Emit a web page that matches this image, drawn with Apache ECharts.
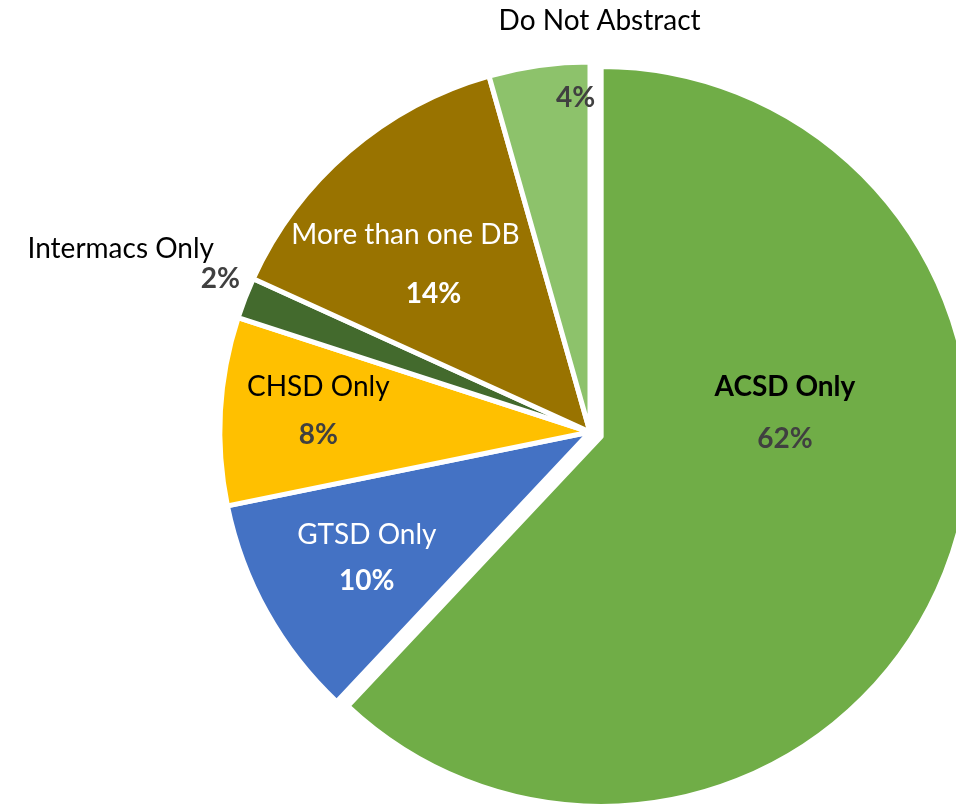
<!DOCTYPE html>
<html>
<head>
<meta charset="utf-8">
<script src="https://cdn.jsdelivr.net/npm/echarts@6/dist/echarts.min.js"></script>
<style>
html,body{margin:0;padding:0;background:#ffffff;}
#chart{width:956px;height:804px;}
</style>
</head>
<body>
<div id="chart"></div>
<script>
const categories = ['ACSD Only', 'GTSD Only', 'CHSD Only', 'Intermacs Only', 'More than one DB', 'Do Not Abstract'];
const values = [62.0, 9.8, 8.2, 1.8, 13.8, 4.4];

const colors = ['#70AD47', '#4472C4', '#FFC000', '#436A2D', '#997300', '#8DC26B'];
const FONT = 'Lato';
const FS = 28;
// per-slice label styling (not data)
const labelCfg = [
  {nameColor:'#000', nameWeight:'bold', pctColor:'#404040', lh:52, dx:9, dy:-93},
  {nameColor:'#fff', nameWeight:'normal', pctColor:'#fff', lh:46, dx:-59, dy:34},
  {nameColor:'#000', nameWeight:'normal', pctColor:'#404040', lh:48, dx:-84, dy:-10},
  {nameColor:'#000', nameWeight:'normal', pctColor:'#404040', lh:30, dx:-281, dy:-100, align:'right', namePad:[0,26,0,0]},
  {nameColor:'#fff', nameWeight:'normal', pctColor:'#fff', lh:59, dx:-62, dy:-25, pctPad:[0,0,0,56]},
  {nameColor:'#000', nameWeight:'normal', pctColor:'#404040', lh:77, dx:35.5, dy:-186.5, pctPad:[0,48,0,0]}
];

const chart = echarts.init(document.getElementById('chart'), null, {renderer:'canvas'});

const seriesData = categories.map((name, i) => {
  const c = labelCfg[i];
  return {
    name: name,
    value: values[i],
    selected: i === 0,
    itemStyle: {color: colors[i]},
    label: {
      align: c.align || 'center',
      rich: {
        n: {fontFamily: FONT, fontSize: FS, color: c.nameColor, fontWeight: c.nameWeight, lineHeight: c.lh, padding: c.namePad || 0, align: c.align || 'center'},
        p: {fontFamily: FONT, fontSize: FS, color: c.pctColor, fontWeight: 'bold', lineHeight: c.lh, padding: c.pctPad || 0, align: c.align || 'center'}
      }
    }
  };
});

chart.setOption({
  backgroundColor: '#ffffff',
  animation: false,
  series: [{
    type: 'pie',
    center: [590, 432],
    radius: 370,
    startAngle: 90,
    clockwise: true,
    selectedMode: 'single',
    selectedOffset: 12,
    avoidLabelOverlap: false,
    itemStyle: {borderColor: '#ffffff', borderWidth: 5},
    select: {itemStyle: {borderColor: '#ffffff', borderWidth: 5}},
    emphasis: {disabled: true},
    label: {
      show: true,
      position: 'inside',
      formatter: function (p) {
        return '{n|' + p.name + '}\n{p|' + Math.round(p.percent) + '%}';
      }
    },
    labelLine: {show: false},
    labelLayout: function (params) {
      const c = labelCfg[params.dataIndex];
      return {dx: c.dx, dy: c.dy};
    },
    data: seriesData
  }]
});
</script>
</body>
</html>
